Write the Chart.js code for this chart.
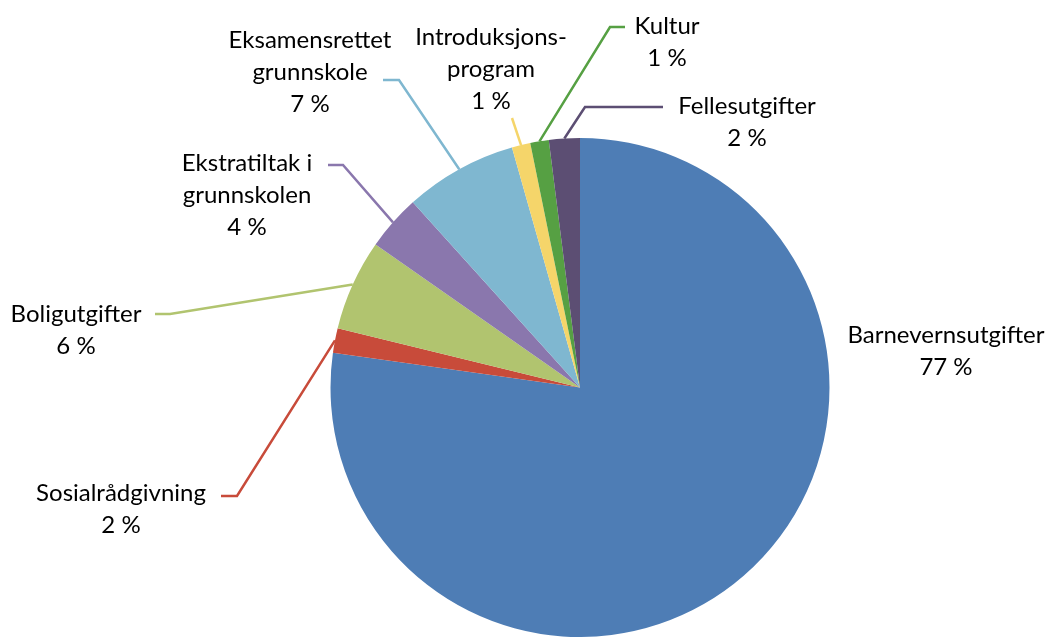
<!DOCTYPE html>
<html>
<head>
<meta charset="utf-8">
<script src="https://cdn.jsdelivr.net/npm/chart.js@4"></script>
<style>
html,body{margin:0;padding:0;background:#fff;}
#wrap{width:1054px;height:637px;position:relative;}
</style>
</head>
<body>
<div id="wrap"><canvas id="c" width="1054" height="637"></canvas></div>
<script>
const categories = ["Barnevernsutgifter", "Sosialrådgivning", "Boligutgifter", "Ekstratiltak i\ngrunnskolen", "Eksamensrettet\ngrunnskole", "Introduksjons-\nprogram", "Kultur", "Fellesutgifter"];
const shares = [77.3, 1.6, 5.9, 3.6, 7.3, 1.2, 1.2, 2.0];
const percentLabels = ["77 %", "2 %", "6 %", "4 %", "7 %", "1 %", "1 %", "2 %"];
const colors = ["#4E7DB5", "#C84B3A", "#B1C46F", "#8A77AD", "#7FB7D0", "#F5D56A", "#56A043", "#5C4E73"];

// label layout: text centre (first line) and leader elbow points
const labelLayout = [
  {x: 946, y: 335, leader: null},
  {x: 121, y: 493, leader: [[221, 496], [237, 496]]},
  {x: 76,  y: 314, leader: [[155, 314], [170, 314]]},
  {x: 247, y: 163, leader: [[328, 165], [343, 165]]},
  {x: 310, y: 40,  leader: [[383, 80],  [399, 80]]},
  {x: 491, y: 37,  leader: [[512, 118]]},
  {x: 667, y: 26,  leader: [[625, 27],  [610, 27]]},
  {x: 747, y: 106, leader: [[663, 107], [585, 107]]}
];
const lineHeight = 32;
const fontSpec = '24px Lato, "Open Sans", sans-serif';

const labelPlugin = {
  id: 'outLabels',
  afterDatasetsDraw(chart) {
    const ctx = chart.ctx;
    const meta = chart.getDatasetMeta(0);
    ctx.save();
    meta.data.forEach((arc, i) => {
      const p = arc.getProps(['x', 'y', 'startAngle', 'endAngle', 'outerRadius'], true);
      const mid = (p.startAngle + p.endAngle) / 2;
      const ax = p.x + Math.cos(mid) * p.outerRadius;
      const ay = p.y + Math.sin(mid) * p.outerRadius;
      const lay = labelLayout[i];
      if (lay.leader) {
        ctx.beginPath();
        ctx.strokeStyle = colors[i];
        ctx.lineWidth = 2.5;
        ctx.lineJoin = 'miter';
        ctx.moveTo(lay.leader[0][0], lay.leader[0][1]);
        for (let k = 1; k < lay.leader.length; k++) ctx.lineTo(lay.leader[k][0], lay.leader[k][1]);
        ctx.lineTo(ax, ay);
        ctx.stroke();
      }
      const lines = categories[i].split("\n").concat([percentLabels[i]]);
      ctx.fillStyle = '#000';
      ctx.font = fontSpec;
      ctx.textAlign = 'center';
      ctx.textBaseline = 'middle';
      lines.forEach((t, k) => ctx.fillText(t, lay.x, lay.y + k * lineHeight));
    });
    ctx.restore();
  }
};

new Chart(document.getElementById('c'), {
  type: 'pie',
  data: {
    labels: categories,
    datasets: [{
      data: shares,
      backgroundColor: colors,
      borderWidth: 0
    }]
  },
  options: {
    responsive: false,
    animation: false,
    layout: {padding: {left: 330, right: 224, top: 138, bottom: 0}},
    plugins: {legend: {display: false}, tooltip: {enabled: false}}
  },
  plugins: [labelPlugin]
});
</script>
</body>
</html>
